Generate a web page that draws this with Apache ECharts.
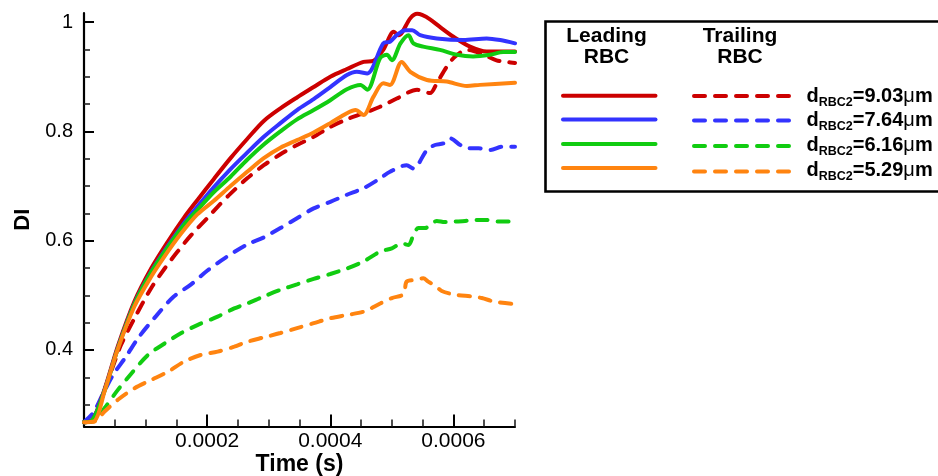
<!DOCTYPE html>
<html><head><meta charset="utf-8">
<script src="https://cdn.jsdelivr.net/npm/echarts@6/dist/echarts.min.js"></script>
<style>html,body{margin:0;padding:0;background:#fff}#c{width:938px;height:476px}</style>
</head><body><div id="c"></div>
<script>
// time values are in units of 1e-4 s
const TIME_UNIT = 1e-4;

const redLeadT  = [0, 0.12, 0.33, 0.55, 0.82, 1.09, 1.36, 1.63, 1.84, 2.11, 2.38, 2.65, 2.92, 3.19, 3.46, 3.73, 4.0, 4.27, 4.54, 4.70, 4.86, 5.03, 5.11, 5.30, 5.41, 5.49, 5.62, 5.78, 6.0, 6.27, 6.54, 6.81, 7.0];
const redLeadDI = [0.268, 0.270, 0.327, 0.407, 0.489, 0.549, 0.598, 0.643, 0.674, 0.713, 0.751, 0.786, 0.819, 0.842, 0.862, 0.881, 0.900, 0.914, 0.927, 0.929, 0.949, 0.982, 0.976, 1.007, 1.015, 1.013, 1.005, 0.991, 0.973, 0.955, 0.946, 0.946, 0.946];

const blueLeadT  = [0, 0.12, 0.33, 0.55, 0.82, 1.09, 1.36, 1.63, 1.84, 2.11, 2.38, 2.65, 2.92, 3.19, 3.46, 3.73, 4.0, 4.27, 4.43, 4.60, 4.86, 4.97, 5.08, 5.22, 5.33, 5.46, 5.73, 6.16, 6.54, 6.76, 7.0];
const blueLeadDI = [0.268, 0.270, 0.325, 0.404, 0.485, 0.543, 0.590, 0.633, 0.662, 0.698, 0.731, 0.761, 0.790, 0.815, 0.839, 0.859, 0.881, 0.903, 0.909, 0.906, 0.961, 0.964, 0.976, 0.985, 0.985, 0.976, 0.970, 0.967, 0.970, 0.967, 0.961];

const greenLeadT  = [0, 0.12, 0.33, 0.55, 0.82, 1.09, 1.36, 1.63, 1.84, 2.11, 2.38, 2.65, 2.92, 3.19, 3.46, 3.73, 4.0, 4.27, 4.49, 4.60, 4.81, 4.92, 5.0, 5.14, 5.27, 5.35, 5.51, 5.78, 6.06, 6.32, 6.59, 6.81, 7.0];
const greenLeadDI = [0.268, 0.270, 0.324, 0.403, 0.484, 0.542, 0.588, 0.630, 0.656, 0.689, 0.717, 0.748, 0.776, 0.800, 0.822, 0.839, 0.857, 0.877, 0.885, 0.876, 0.934, 0.940, 0.930, 0.961, 0.976, 0.961, 0.955, 0.949, 0.940, 0.937, 0.940, 0.945, 0.945];

const orangeLeadT  = [0, 0.17, 0.33, 0.55, 0.82, 1.09, 1.30, 1.57, 1.84, 2.11, 2.38, 2.65, 2.92, 3.19, 3.46, 3.73, 4.0, 4.27, 4.41, 4.54, 4.70, 4.86, 4.97, 5.16, 5.30, 5.57, 5.89, 6.22, 6.43, 7.0];
const orangeLeadDI = [0.268, 0.270, 0.323, 0.402, 0.480, 0.534, 0.570, 0.612, 0.648, 0.673, 0.700, 0.726, 0.751, 0.770, 0.784, 0.798, 0.815, 0.833, 0.839, 0.830, 0.863, 0.888, 0.885, 0.927, 0.909, 0.894, 0.891, 0.883, 0.885, 0.889];

const redTrailT  = [0, 0.14, 0.23, 0.42, 0.60, 0.82, 1.09, 1.31, 1.52, 1.74, 2.0, 2.17, 2.38, 2.65, 2.92, 3.19, 3.46, 3.73, 4.0, 4.27, 4.54, 4.81, 5.08, 5.41, 5.62, 5.73, 5.89, 6.03, 6.22, 6.43, 6.70, 6.87, 7.0];
const redTrailDI = [0.268, 0.272, 0.293, 0.354, 0.409, 0.458, 0.513, 0.549, 0.580, 0.610, 0.641, 0.662, 0.686, 0.714, 0.738, 0.758, 0.775, 0.790, 0.808, 0.822, 0.833, 0.845, 0.860, 0.876, 0.870, 0.888, 0.918, 0.937, 0.949, 0.943, 0.930, 0.927, 0.925];

const blueTrailT  = [0, 0.15, 0.3, 0.47, 0.67, 0.9, 1.17, 1.45, 1.74, 2.0, 2.3, 2.65, 2.92, 3.19, 3.46, 3.73, 4.0, 4.27, 4.54, 4.81, 4.97, 5.24, 5.35, 5.57, 5.70, 5.84, 5.95, 6.11, 6.24, 6.41, 6.60, 6.79, 7.0];
const blueTrailDI = [0.268, 0.285, 0.318, 0.354, 0.386, 0.425, 0.462, 0.497, 0.520, 0.545, 0.569, 0.593, 0.606, 0.623, 0.641, 0.659, 0.671, 0.684, 0.696, 0.714, 0.726, 0.738, 0.732, 0.766, 0.775, 0.778, 0.787, 0.775, 0.769, 0.769, 0.766, 0.772, 0.772];

const greenTrailT  = [0, 0.17, 0.33, 0.55, 0.77, 1.04, 1.31, 1.58, 1.85, 2.17, 2.44, 2.65, 2.92, 3.19, 3.46, 3.73, 4.0, 4.27, 4.54, 4.81, 5.0, 5.16, 5.27, 5.35, 5.43, 5.54, 5.62, 5.73, 5.86, 6.03, 6.19, 6.35, 6.51, 6.73, 7.0];
const greenTrailDI = [0.268, 0.270, 0.293, 0.327, 0.357, 0.391, 0.412, 0.431, 0.446, 0.461, 0.476, 0.485, 0.498, 0.510, 0.520, 0.530, 0.539, 0.549, 0.562, 0.580, 0.586, 0.595, 0.592, 0.610, 0.623, 0.623, 0.629, 0.636, 0.634, 0.635, 0.636, 0.638, 0.638, 0.635, 0.635];

const orangeTrailT  = [0, 0.17, 0.33, 0.55, 0.82, 1.09, 1.36, 1.63, 1.90, 2.17, 2.44, 2.65, 2.92, 3.19, 3.46, 3.73, 4.0, 4.27, 4.54, 4.81, 5.0, 5.19, 5.24, 5.38, 5.51, 5.59, 5.70, 5.81, 6.03, 6.30, 6.46, 6.68, 7.0];
const orangeTrailDI = [0.268, 0.269, 0.287, 0.309, 0.330, 0.345, 0.360, 0.379, 0.391, 0.397, 0.406, 0.415, 0.423, 0.431, 0.440, 0.449, 0.458, 0.464, 0.470, 0.485, 0.495, 0.502, 0.525, 0.528, 0.531, 0.525, 0.518, 0.508, 0.501, 0.498, 0.495, 0.488, 0.484];

const diameters = ['9.03', '7.64', '6.16', '5.29'];
const colors = ['#cc0000', '#3333ff', '#11cc11', '#ff8410'];
const X_MAJOR = [0.0002, 0.0004, 0.0006];
const X_MINOR = [0.00005, 0.0001, 0.00015, 0.00025, 0.0003, 0.00035, 0.00045, 0.0005, 0.00055, 0.00065, 0.0007];
const Y_MAJOR = [0.4, 0.6, 0.8, 1];
const Y_MINOR = [0.3, 0.35, 0.45, 0.5, 0.55, 0.65, 0.7, 0.75, 0.85, 0.9, 0.95];

const FONT = '"Liberation Sans", Arial, Helvetica, sans-serif';

function zip(t, v) { return t.map((x, i) => [x * TIME_UNIT, v[i]]); }

const leading = [[redLeadT, redLeadDI], [blueLeadT, blueLeadDI], [greenLeadT, greenLeadDI], [orangeLeadT, orangeLeadDI]];
const trailing = [[redTrailT, redTrailDI], [blueTrailT, blueTrailDI], [greenTrailT, greenTrailDI], [orangeTrailT, orangeTrailDI]];
const DASH = [11, 10];
const SMOOTH = 0.3;

const series = [];
trailing.forEach((s, i) => series.push({
  type: 'line', name: 'Trailing ' + diameters[i], data: zip(s[0], s[1]), showSymbol: false, symbol: 'none',
  smooth: SMOOTH,
  lineStyle: { color: colors[i], width: 4, type: DASH, cap: 'round' }, z: 2
}));
leading.forEach((s, i) => series.push({
  type: 'line', name: 'Leading ' + diameters[i], data: zip(s[0], s[1]), showSymbol: false, symbol: 'none',
  smooth: SMOOTH,
  lineStyle: { color: colors[i], width: 4, cap: 'round', join: 'round' }, z: 3
}));

// legend (custom layout, as in the reference)
const ctx = document.createElement('canvas').getContext('2d');
function tw(text, font) { ctx.font = font; return ctx.measureText(text).width; }
const fMain = 'bold 20px ' + FONT, fSub = 'bold 12.5px ' + FONT, fMu = '20px ' + FONT;
const graphic = [];
graphic.push({ type: 'rect', shape: { x: 545.5, y: 21.5, width: 420, height: 170 }, style: { fill: '#fff', stroke: '#000', lineWidth: 2.6 }, z: 10 });
const hdr = (txt, x, y) => graphic.push({ type: 'text', z: 11, style: { text: txt, x: x, y: y, font: 'bold 21px ' + FONT, fill: '#000', align: 'center', verticalAlign: 'middle', textAlign: 'center', textVerticalAlign: 'middle' } });
hdr('Leading', 606.5, 36); hdr('RBC', 606.5, 57);
hdr('Trailing', 740, 36); hdr('RBC', 740, 57);
const solidY = [95.7, 119.5, 144, 168];
const dashY = [96, 120.5, 146, 171.5];
const baseY = [103.3, 127.6, 152.7, 177.3];
diameters.forEach((d, i) => {
  graphic.push({ type: 'line', z: 11, shape: { x1: 563, y1: solidY[i], x2: 655.5, y2: solidY[i] }, style: { stroke: colors[i], lineWidth: 4, lineCap: 'round' } });
  graphic.push({ type: 'line', z: 11, shape: { x1: 694, y1: dashY[i], x2: 792, y2: dashY[i] }, style: { stroke: colors[i], lineWidth: 4, lineCap: 'round', lineDash: DASH } });
  let x = 806.5;
  const put = (txt, font, y) => {
    graphic.push({ type: 'text', z: 11, style: { text: txt, x: x, y: y, font: font, fill: '#000', align: 'left', verticalAlign: 'middle', textAlign: 'left', textVerticalAlign: 'middle' } });
    x += tw(txt, font);
  };
  put('d', fMain, baseY[i] - 6.9);
  put('RBC2', fSub, baseY[i] + 3.4 - 4.3);
  put('=' + d, fMain, baseY[i] - 6.9);
  put('\u03bc', fMu, baseY[i] - 6.9);
  put('m', fMain, baseY[i] - 6.9);
});

const axisText = { color: '#000', fontFamily: FONT };
const option = {
  animation: false,
  backgroundColor: '#fff',
  grid: { left: 84, right: 423, top: 13, bottom: 49.5, containLabel: false, outerBoundsMode: 'none' },
  xAxis: [{
    type: 'value', min: 0, max: 0.0007, position: 'bottom',
    axisLine: { show: true, onZero: false, lineStyle: { color: '#000', width: 2.2 } },
    axisTick: { show: true, inside: true, length: 12, customValues: X_MAJOR, lineStyle: { color: '#000', width: 2 } },
    axisLabel: { show: true, customValues: X_MAJOR, formatter: v => v.toFixed(4), fontSize: 21, margin: 4, ...axisText },
    splitLine: { show: false },
    name: 'Time (s)', nameLocation: 'middle', nameGap: 27, nameMoveOverlap: false,
    nameTextStyle: { fontSize: 23, fontWeight: 'bold', ...axisText }
  }, {
    type: 'value', min: 0, max: 0.0007, position: 'bottom', gridIndex: 0,
    axisLine: { show: false }, axisLabel: { show: false }, splitLine: { show: false },
    axisTick: { show: true, inside: true, length: 7, customValues: X_MINOR, lineStyle: { color: '#222', width: 1.6 } }
  }],
  yAxis: [{
    type: 'value', min: 0.26, max: 1.0165, position: 'left',
    axisLine: { show: true, onZero: false, lineStyle: { color: '#000', width: 2.2 } },
    axisTick: { show: true, inside: true, length: 10, customValues: Y_MAJOR, lineStyle: { color: '#000', width: 2 } },
    axisLabel: { show: true, customValues: Y_MAJOR, formatter: v => (Math.abs(v - 1) < 1e-9 ? '1' : v.toFixed(1)), fontSize: 20, margin: 11, ...axisText },
    splitLine: { show: false },
    name: 'DI', nameLocation: 'middle', nameGap: 50, nameRotate: 90, nameMoveOverlap: false,
    nameTextStyle: { fontSize: 22, fontWeight: 'bold', ...axisText }
  }, {
    type: 'value', min: 0.26, max: 1.0165, position: 'left', gridIndex: 0, offset: 0,
    axisLine: { show: false }, axisLabel: { show: false }, splitLine: { show: false },
    axisTick: { show: true, inside: true, length: 6, customValues: Y_MINOR, lineStyle: { color: '#222', width: 1.6 } }
  }],
  series: series,
  graphic: graphic
};
const chart = echarts.init(document.getElementById('c'), null, { renderer: 'canvas' });
chart.setOption(option);
</script>
</body></html>
